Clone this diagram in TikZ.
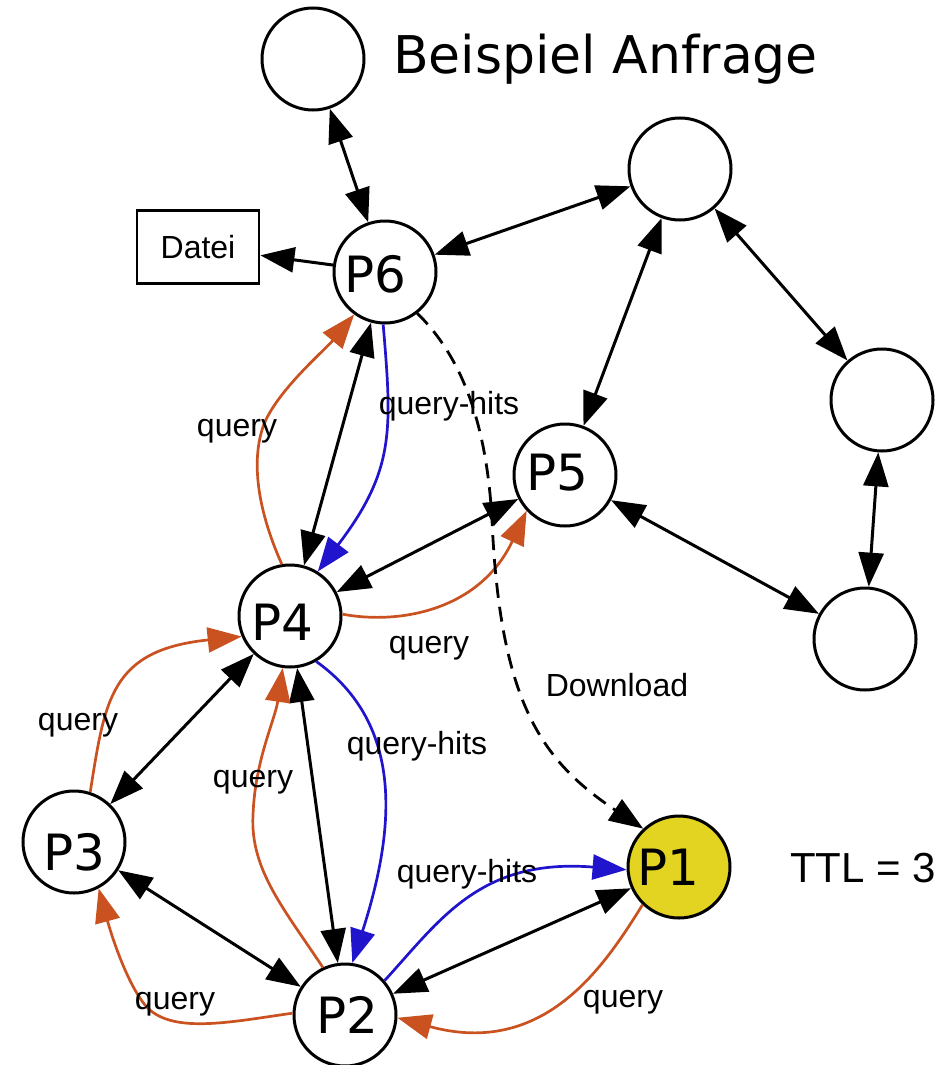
\documentclass[tikz,border=0pt]{standalone}
\usepackage{fontspec}
\setmainfont{Liberation Sans}
\newfontfamily\peerfont{DejaVu Sans}
\usetikzlibrary{arrows.meta}

\definecolor{qorange}{RGB}{201,82,32}
\definecolor{qblue}{RGB}{32,20,205}
\definecolor{peeryellow}{RGB}{228,212,34}

\begin{document}
\begin{tikzpicture}[x=1pt, y=-1pt,
  >={Triangle[length=34pt,width=25pt]},
  peer/.style={circle, draw=black, line width=3pt, fill=white,
               minimum size=102pt, inner sep=0pt},
  ptext/.style={font=\peerfont\fontsize{50}{60}\selectfont, inner sep=0pt},
  lbl/.style={font=\fontsize{32}{38}\selectfont, inner sep=0pt},
  filebox/.style={draw=black, line width=2.8pt, fill=white,
                  minimum width=122pt, minimum height=73pt, inner sep=0pt,
                  font=\fontsize{32}{38}\selectfont},
  both/.style={line width=3pt, <->},
  one/.style={line width=3pt, ->},
  query/.style={draw=qorange, line width=2.7pt, ->},
  hits/.style={draw=qblue, line width=2.7pt, ->},
  download/.style={line width=2.8pt, ->, dash pattern=on 15pt off 9pt}
]
\useasboundingbox (0,0) rectangle (946,1065);

% peers
\node[peer] (n1) at (313,59) {};
\node[peer] (n2) at (680,169) {};
\node[peer] (n3) at (882,400) {};
\node[peer] (n4) at (865,639) {};
\node[peer] (p6) at (385,272) {};
\node[peer] (p5) at (565,475) {};
\node[peer] (p4) at (290,616) {};
\node[peer] (p3) at (74,842) {};
\node[peer] (p2) at (345,1015) {};
\node[peer, fill=peeryellow] (p1) at (679,867) {};

\node[filebox] (datei) at (198,247) {Datei};

% overlay network links
\draw[both] (n1) -- (p6);
\draw[both] (p6) -- (n2);
\draw[one]  (p6) -- (datei);
\draw[both] (n2) -- (p5);
\draw[both] (n2) -- (n3);
\draw[both] (n3) -- (n4);
\draw[both] (p5) -- (n4);
\draw[both] (p4) -- (p5);
\draw[both] (p4) -- (p6);
\draw[both] (p4) -- (p3);
\draw[both] (p4) -- (p2);
\draw[both] (p3) -- (p2);
\draw[both] (p2) -- (p1);

% query flooding
\draw[query] (p1.-134) .. controls (605,965) and (545,1058) .. (p2.-3);
\draw[query] (p2.178) .. controls (230,1022) and (170,1035) .. (145,1005)
             .. controls (125,980) and (110,930) .. (p3.-62);
\draw[query] (p2.115) .. controls (285,910) and (250,870) .. (253,815)
             .. controls (255,760) and (275,720) .. (p4.-98);
\draw[query] (p3.72) .. controls (105,700) and (110,650) .. (p4.203);
\draw[query] (p4.2) .. controls (400,625) and (480,610) .. (p5.-137);
\draw[query] (p4.99) .. controls (262,520) and (250,470) .. (262,430)
             .. controls (272,395) and (325,350) .. (p6.-126);

% query hits travelling back
\draw[hits] (p6.-92) .. controls (392,430) and (395,470) .. (p4.58);
\draw[hits] (p4.-60) .. controls (405,725) and (395,830) .. (p2.82);
\draw[hits] (p2.41) .. controls (440,920) and (480,858) .. (p1.183);

% direct download
\draw[download] (p6.-52) .. controls (465,360) and (487,430) .. (492,520)
                .. controls (500,700) and (540,760) .. (p1.133);

% peer names
\node[ptext] (p6t) at (375,274) {P6};
\node[ptext] (p5t) at (557,473) {P5};
\node[ptext] (p4t) at (282,622) {P4};
\node[ptext] (p3t) at (74,852) {P3};
\node[ptext] (p2t) at (347,1015) {P2};
\node[ptext] (p1t) at (668,867) {P1};

% edge labels
\node[lbl] (l1) at (237,431) {query};
\node[lbl] (l2) at (449,406) {query-hits};
\node[lbl] (l3) at (429,648) {query};
\node[lbl] (l4) at (617,685) {Download};
\node[lbl] (l5) at (78,725) {query};
\node[lbl] (l6) at (417,746) {query-hits};
\node[lbl] (l7) at (253,782) {query};
\node[lbl] (l8) at (467,874) {query-hits};
\node[lbl] (l9) at (175,1004) {query};
\node[lbl] (l10) at (623,1002) {query};

% title and TTL note
\node[font=\peerfont\fontsize{52}{62}\selectfont, inner sep=0pt, anchor=base west]
  (title) at (393,74) {Beispiel Anfrage};
\node[font=\fontsize{42}{50}\selectfont, inner sep=0pt] (ttl) at (863,868) {TTL = 3};
\end{tikzpicture}
\end{document}
